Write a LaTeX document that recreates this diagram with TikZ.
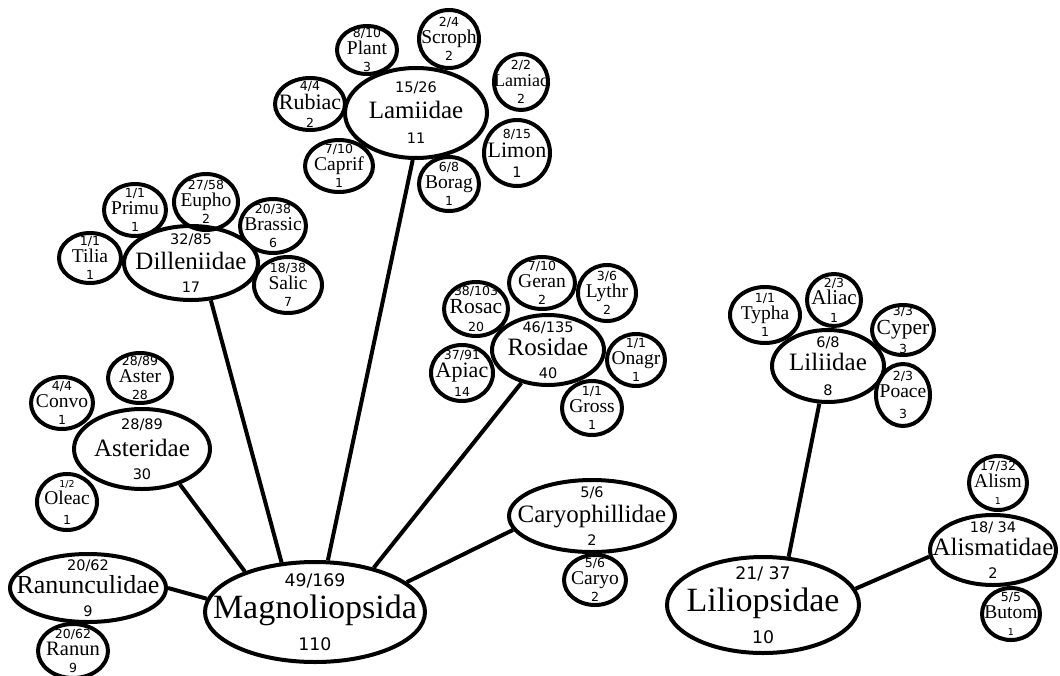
\documentclass[tikz,border=0pt]{standalone}
\usepackage{fontspec}
\setmainfont{Liberation Serif}
\newfontfamily\numfont{DejaVu Sans}
\usetikzlibrary{shapes.geometric}
\newcommand\fnum[1]{{\numfont\fontsize{12.5}{12.5}\selectfont #1}}
\newcommand\tnum[1]{{\numfont\fontsize{9.5}{9.5}\selectfont #1}}
\newcommand\snum[1]{{\numfont\fontsize{14.5}{14.5}\selectfont #1}}
\newcommand\bnum[1]{{\numfont\fontsize{17.3}{17.3}\selectfont #1}}
\tikzset{
	taxon/.style = {
		draw,
		ellipse,
		line width = 4pt,
		inner sep = -30pt,
		align = center
	}
}

\begin{document}
\begin{tikzpicture}[
x = 1pt, y = -1pt,
classnode/.style = {
	taxon,
	font = \fontsize{34}{32}\selectfont
},
subclass/.style = {
	taxon,
	font = \fontsize{25}{23}\selectfont
},
family/.style = {
	taxon,
	font = \fontsize{19.5}{17}\selectfont
},
link/.style = {
	line width = 4pt
}
]
\useasboundingbox (0,0) rectangle (1060,675);

\node (magno) [classnode, minimum width = 220pt, minimum height = 100pt] at (315,612) {\bnum{49/169}\\ Magnoliopsida\\ \bnum{110}};

\node (ranunculidae) [subclass, minimum width = 156pt, minimum height = 68pt, font = \fontsize{26}{23}\selectfont] at (88,588) {\snum{20/62}\\ Ranunculidae\\ \snum{9}};
\node (ranun) [family, minimum width = 70pt, minimum height = 54pt, font = \fontsize{20.5}{17}\selectfont] at (73,651) {\fnum{20/62}\\ Ranun\\ \fnum{9}};

\node (asteridae) [subclass, minimum width = 136pt, minimum height = 80pt] at (142,449) {\snum{28/89}\\[4pt] Asteridae\\ \snum{30}};
\node (aster) [family, minimum width = 64pt, minimum height = 50pt] at (140,378) {\fnum{28/89}\\ Aster\\ \fnum{28}};
\node (convo) [family, minimum width = 62pt, minimum height = 52pt] at (62,403) {\fnum{4/4}\\ Convo\\ \fnum{1}};
\node (oleac) [family, minimum width = 60pt, minimum height = 56pt] at (67,502) {\tnum{1/2}\\ Oleac\\[3pt] \fnum{1}};

\node (dilleniidae) [subclass, minimum width = 134pt, minimum height = 74pt] at (191,263) {\snum{32/85}\\[2pt] Dilleniidae\\ \snum{17}};
\node (tilia) [family, minimum width = 62pt, minimum height = 50pt] at (90,258) {\fnum{1/1}\\ Tilia\\ \fnum{1}};
\node (primu) [family, minimum width = 62pt, minimum height = 52pt] at (135,210) {\fnum{1/1}\\ Primu\\ \fnum{1}};
\node (eupho) [family, minimum width = 64pt, minimum height = 56pt] at (206,202) {\fnum{27/58}\\ Eupho\\ \fnum{2}};
\node (brassic) [family, minimum width = 66pt, minimum height = 54pt] at (273,226) {\fnum{20/38}\\ Brassic\\ \fnum{6}};
\node (salic) [family, minimum width = 68pt, minimum height = 56pt] at (288,285) {\fnum{18/38}\\ Salic\\ \fnum{7}};

\node (lamiidae) [subclass, minimum width = 142pt, minimum height = 90pt] at (416,113) {\snum{15/26}\\[3pt] Lamiidae\\[2pt] \snum{11}};
\node (plant) [family, minimum width = 60pt, minimum height = 48pt] at (367,50) {\fnum{8/10}\\ Plant\\ \fnum{3}};
\node (scroph) [family, minimum width = 60pt, minimum height = 58pt] at (449,39) {\fnum{2/4}\\ Scroph\\ \fnum{2}};
\node (lamiac) [family, minimum width = 54pt, minimum height = 56pt, font = \fontsize{18}{17}\selectfont] at (521,82) {\fnum{2/2}\\ Lamiac\\ \fnum{2}};
\node (limon) [family, minimum width = 66pt, minimum height = 66pt, font = \fontsize{22}{19}\selectfont] at (517,153) {\fnum{8/15}\\ Limon\\[1pt] \snum{1}};
\node (borag) [family, minimum width = 60pt, minimum height = 54pt] at (449,184) {\fnum{6/8}\\ Borag\\ \fnum{1}};
\node (caprif) [family, minimum width = 68pt, minimum height = 52pt] at (339,166) {\fnum{7/10}\\ Caprif\\ \fnum{1}};
\node (rubiac) [family, minimum width = 70pt, minimum height = 52pt, font = \fontsize{22}{18}\selectfont] at (310,104) {\fnum{4/4}\\[1pt] Rubiac\\ \fnum{2}};

\node (rosidae) [subclass, minimum width = 112pt, minimum height = 70pt] at (548,350) {\snum{46/135}\\ Rosidae\\ \snum{40}};
\node (geran) [family, minimum width = 66pt, minimum height = 52pt] at (542,283) {\fnum{7/10}\\ Geran\\ \fnum{2}};
\node (lythr) [family, minimum width = 58pt, minimum height = 56pt] at (607,293) {\fnum{3/6}\\ Lythr\\ \fnum{2}};
\node (rosac) [family, minimum width = 64pt, minimum height = 54pt, font = \fontsize{21.5}{18}\selectfont] at (476,309) {\fnum{38/103}\\ Rosac\\ \fnum{20}};
\node (apiac) [family, minimum width = 62pt, minimum height = 56pt, font = \fontsize{22}{18.5}\selectfont] at (462,373) {\fnum{37/91}\\ Apiac\\ \fnum{14}};
\node (onagr) [family, minimum width = 58pt, minimum height = 52pt] at (636,360) {\fnum{1/1}\\ Onagr\\ \fnum{1}};
\node (gross) [family, minimum width = 60pt, minimum height = 54pt] at (592,408) {\fnum{1/1}\\ Gross\\ \fnum{1}};

\node (caryoph) [subclass, minimum width = 166pt, minimum height = 72pt] at (592,516) {\snum{5/6}\\[2pt] Caryophillidae\\ \snum{2}};
\node (caryo) [family, minimum width = 62pt, minimum height = 50pt] at (595,580) {\fnum{5/6}\\ Caryo\\ \fnum{2}};

\node (liliopsidae) [classnode, minimum width = 192pt, minimum height = 96pt] at (763,605) {\bnum{21/ 37}\\ Liliopsidae\\ \bnum{10}};

\node (liliidae) [subclass, minimum width = 112pt, minimum height = 72pt] at (828,366) {\snum{6/8}\\ Liliidae\\[2pt] \snum{8}};
\node (typha) [family, minimum width = 70pt, minimum height = 56pt] at (765,315) {\fnum{1/1}\\ Typha\\ \fnum{1}};
\node (aliac) [family, minimum width = 54pt, minimum height = 52pt, font = \fontsize{21}{17.5}\selectfont] at (834,300) {\fnum{2/3}\\ Aliac\\ \fnum{1}};
\node (cyper) [family, minimum width = 62pt, minimum height = 50pt, font = \fontsize{21.5}{18.5}\selectfont] at (903,330) {\fnum{3/3}\\[0.5pt] Cyper\\ \fnum{3}};
\node (poace) [family, minimum width = 54pt, minimum height = 62pt] at (903,395) {\fnum{2/3}\\ Poace\\[4pt] \fnum{3}};

\node (alismatidae) [subclass, minimum width = 126pt, minimum height = 70pt] at (993,550) {\snum{18/ 34}\\ Alismatidae\\ \snum{2}};
\node (alism) [family, minimum width = 58pt, minimum height = 54pt] at (998,483) {\fnum{17/32}\\ Alism\\ \tnum{1}};
\node (butom) [family, minimum width = 58pt, minimum height = 52pt] at (1011,614) {\fnum{5/5}\\ Butom\\ \tnum{1}};

\draw [link] (magno.173) -- (ranunculidae.east);
\draw [link] (magno.150) -- (asteridae.317);
\draw [link] (magno.124) -- (dilleniidae.298);
\draw [link] (magno.76) -- (lamiidae.266);
\draw [link] (magno.37) -- (rosidae.231);
\draw [link] (magno.18) -- (caryoph.190);
\draw [link] (liliopsidae.62) -- (liliidae.257);
\draw [link] (liliopsidae.10) -- (alismatidae.186);

\end{tikzpicture}
\end{document}
